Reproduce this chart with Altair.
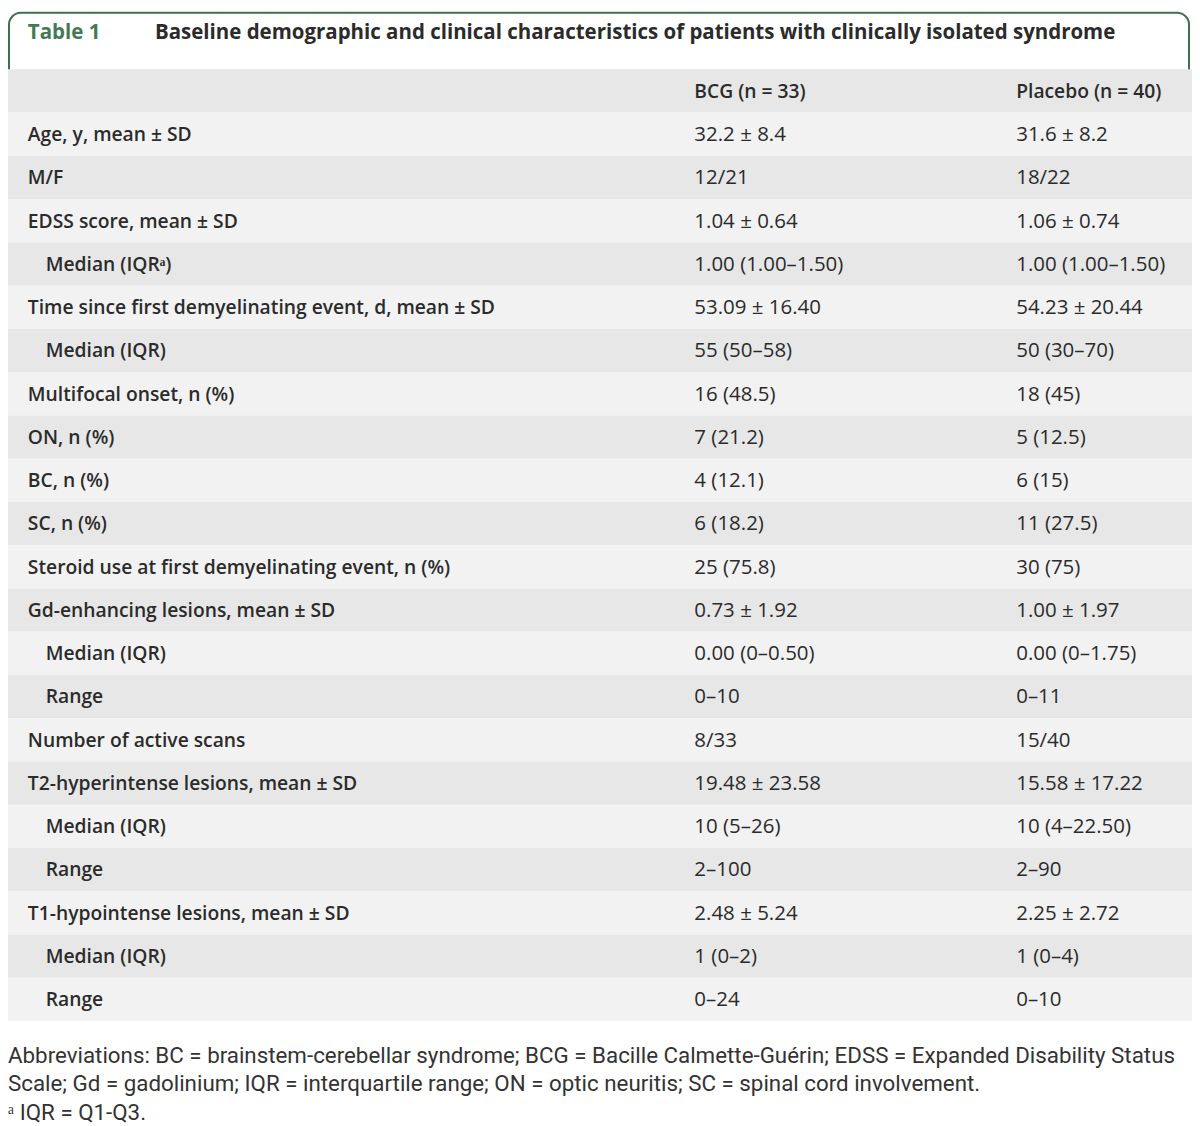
import altair as alt
import pandas as pd

# ---- data ----
header = ["", "BCG (n = 33)", "Placebo (n = 40)"]
labels = [
    "Age, y, mean ± SD",
    "M/F",
    "EDSS score, mean ± SD",
    "Median (IQRᵃ)",
    "Time since first demyelinating event, d, mean ± SD",
    "Median (IQR)",
    "Multifocal onset, n (%)",
    "ON, n (%)",
    "BC, n (%)",
    "SC, n (%)",
    "Steroid use at first demyelinating event, n (%)",
    "Gd-enhancing lesions, mean ± SD",
    "Median (IQR)",
    "Range",
    "Number of active scans",
    "T2-hyperintense lesions, mean ± SD",
    "Median (IQR)",
    "Range",
    "T1-hypointense lesions, mean ± SD",
    "Median (IQR)",
    "Range",
]
indent = [0, 0, 0, 1, 0, 1, 0, 0, 0, 0, 0, 0, 1, 1, 0, 0, 1, 1, 0, 1, 1]
bcg = [
    "32.2 ± 8.4", "12/21", "1.04 ± 0.64", "1.00 (1.00–1.50)", "53.09 ± 16.40",
    "55 (50–58)", "16 (48.5)", "7 (21.2)", "4 (12.1)", "6 (18.2)", "25 (75.8)",
    "0.73 ± 1.92", "0.00 (0–0.50)", "0–10", "8/33", "19.48 ± 23.58",
    "10 (5–26)", "2–100", "2.48 ± 5.24", "1 (0–2)", "0–24",
]
placebo = [
    "31.6 ± 8.2", "18/22", "1.06 ± 0.74", "1.00 (1.00–1.50)", "54.23 ± 20.44",
    "50 (30–70)", "18 (45)", "5 (12.5)", "6 (15)", "11 (27.5)", "30 (75)",
    "1.00 ± 1.97", "0.00 (0–1.75)", "0–11", "15/40", "15.58 ± 17.22",
    "10 (4–22.50)", "2–90", "2.25 ± 2.72", "1 (0–4)", "0–10",
]
title_tag = "Table 1"
title_text = "Baseline demographic and clinical characteristics of patients with clinically isolated syndrome"
footnotes = [
    "Abbreviations: BC = brainstem-cerebellar syndrome; BCG = Bacille Calmette-Guérin; EDSS = Expanded Disability Status",
    "Scale; Gd = gadolinium; IQR = interquartile range; ON = optic neuritis; SC = spinal cord involvement.",
    "ᵃ IQR = Q1-Q3.",
]

# ---- tables ----
n = len(labels)
rows = pd.DataFrame({
    "row": list(range(1, n + 1)),
    "label": labels,
    "indent": indent,
    "bcg": bcg,
    "placebo": placebo,
})
head = pd.DataFrame({"row": [0], "bcg": [header[1]], "placebo": [header[2]]})
stripes = pd.DataFrame({"row": list(range(0, n + 1))})
one = pd.DataFrame({"k": [0]})

W, H = 1192, 1118
FONT = "Open Sans"
TXT = "#2b2b2b"
GREEN = "#437a55"
ysc = alt.Scale(domain=[-0.5, n + 0.5], range=[58, 1016])

box = alt.Chart(one).mark_rect(
    fill="white", stroke="#3f6f4b", strokeWidth=2,
    cornerRadiusTopLeft=12, cornerRadiusTopRight=12,
).encode(x=alt.value(1), x2=alt.value(1189), y=alt.value(1), y2=alt.value(64))

stripe = alt.Chart(stripes).transform_calculate(
    y0="datum.row - 0.5", y1="datum.row + 0.5",
    shade="datum.row % 2 == 0 ? 'd' : 'l'",
).mark_rect().encode(
    x=alt.value(0), x2=alt.value(W),
    y=alt.Y("y0:Q", scale=ysc, axis=None), y2="y1:Q",
    color=alt.Color("shade:N", scale=alt.Scale(domain=["d", "l"], range=["#e7e7e7", "#f2f2f2"]), legend=None),
)

def txt(data, field, xpos, weight="normal", size=19, filt=None):
    c = alt.Chart(data)
    if filt:
        c = c.transform_filter(filt)
    return c.mark_text(
        align="left", baseline="middle", font=FONT, fontSize=size,
        fontWeight=weight, color=TXT, dy=1,
    ).encode(x=alt.value(xpos), y=alt.Y("row:Q", scale=ysc, axis=None), text=f"{field}:N")

lab_main = txt(rows, "label", 20, weight=600, size=19.4, filt="datum.indent == 0")
lab_ind = txt(rows, "label", 38, weight=600, size=19.4, filt="datum.indent == 1")
v1 = txt(rows, "bcg", 691, size=20.6)
v2 = txt(rows, "placebo", 1015, size=20.6)
h1 = txt(head, "bcg", 691, weight=600, size=19.4)
h2 = txt(head, "placebo", 1015, weight=600, size=19.4)

t_tag = alt.Chart(one).mark_text(
    align="left", baseline="middle", font=FONT, fontSize=20.6, fontWeight="bold", color=GREEN,
).encode(x=alt.value(20), y=alt.value(21), text=alt.value(title_tag))
t_main = alt.Chart(one).mark_text(
    align="left", baseline="middle", font=FONT, fontSize=20.6, fontWeight="bold", color=TXT,
).encode(x=alt.value(148), y=alt.value(21), text=alt.value(title_text))

fn_layers = []
for i, line in enumerate(footnotes):
    fn_layers.append(
        alt.Chart(one).mark_text(
            align="left", baseline="middle", font="Roboto", fontSize=22.5, color="#333333",
        ).encode(x=alt.value(0), y=alt.value(1051 + 29 * i), text=alt.value(line))
    )

chart = alt.layer(
    box, stripe, lab_main, lab_ind, v1, v2, h1, h2, t_tag, t_main, *fn_layers
).properties(
    width=W, height=H, padding=0, autosize=alt.AutoSizeParams(type="none"),
    background="white",
).configure_view(stroke=None)

chart.save("out.html", embed_options={"renderer": "svg", "actions": False})
